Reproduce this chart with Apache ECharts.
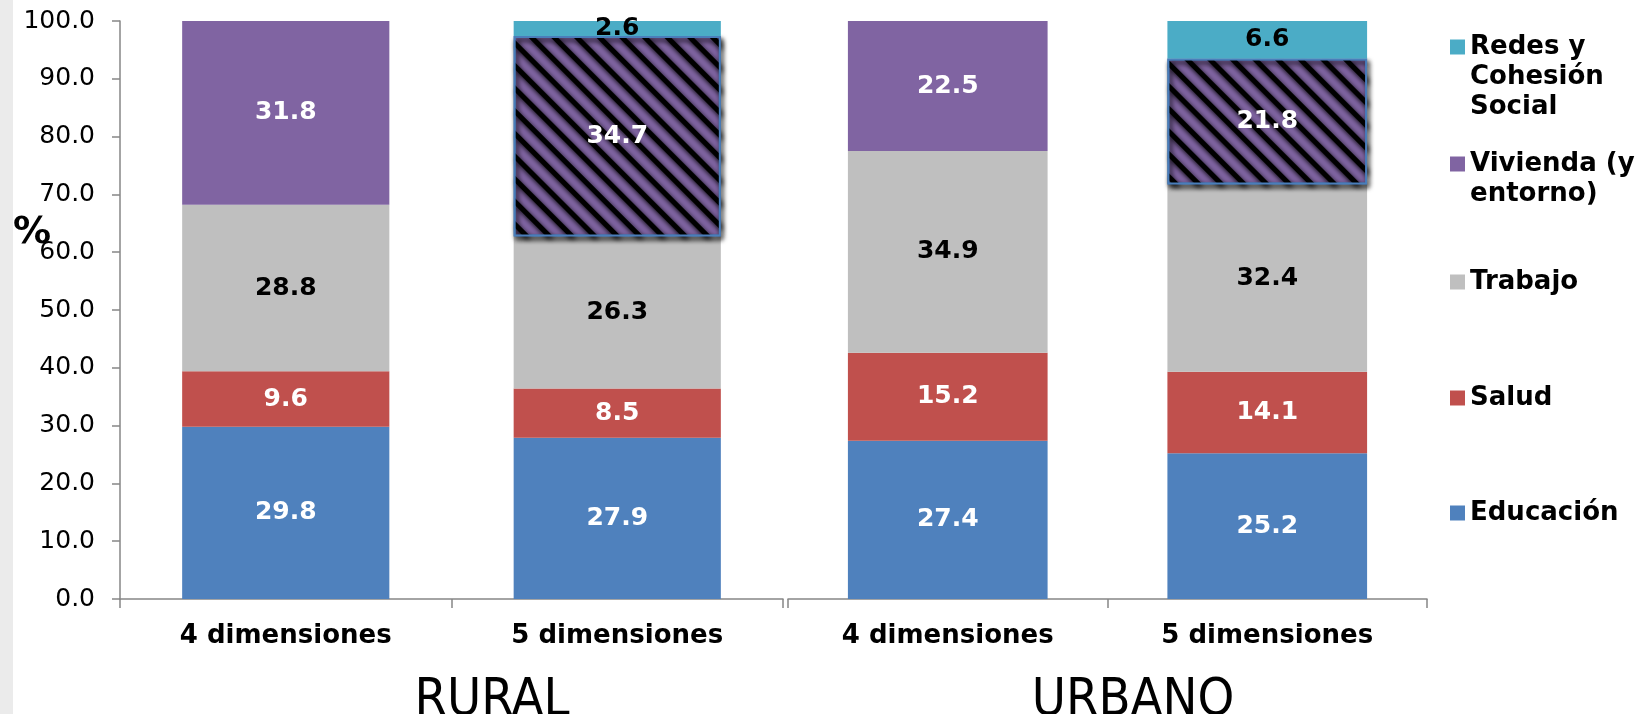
<!DOCTYPE html>
<html><head><meta charset="utf-8">
<script src="https://cdn.jsdelivr.net/npm/echarts@6/dist/echarts.min.js"></script>
<style>
html,body{margin:0;padding:0;background:linear-gradient(to right,#ebebeb 13px,#ffffff 13px);}
#c{width:1643px;height:714px;}
</style></head><body><div id="c"></div>
<script>
// ---- data ----
const categories = ['4 dimensiones', '5 dimensiones'];
const groups = ['RURAL', 'URBANO'];
const yTicks = [0, 10, 20, 30, 40, 50, 60, 70, 80, 90, 100];
// values ordered: [RURAL 4 dim, RURAL 5 dim, URBANO 4 dim, URBANO 5 dim]
const educacion = [29.8, 27.9, 27.4, 25.2];
const salud     = [9.6, 8.5, 15.2, 14.1];
const trabajo   = [28.8, 26.3, 34.9, 32.4];
const vivienda  = [31.8, 34.7, 22.5, 21.8];
const redes     = [null, 2.6, null, 6.6];
const seriesNames = ['Educación', 'Salud', 'Trabajo', 'Vivienda (y entorno)', 'Redes y Cohesión Social'];

// ---- styles ----
const seriesValues = [educacion, salud, trabajo, vivienda, redes];
const colors = ['#4f81bd', '#c0504d', '#bfbfbf', '#8064a2', '#4bacc6'];
const labelColors = ['#ffffff', '#ffffff', '#000000', '#ffffff', '#000000'];
const legendText = {
  'Redes y Cohesión Social': '\n\nRedes y\nCohesión\nSocial',
  'Vivienda (y entorno)': '\nVivienda (y\nentorno)',
  'Trabajo': 'Trabajo', 'Salud': 'Salud', 'Educación': 'Educación'
};
const legendCenters = {'Redes y Cohesión Social': 47, 'Vivienda (y entorno)': 164, 'Trabajo': 282, 'Salud': 398, 'Educación': 513};
const FONT = 'DejaVu Sans';
const axisColor = '#868686';

const hatch = {
  decal: { symbol: 'rect', symbolSize: 1, dashArrayX: [1, 0], dashArrayY: [5, 11], rotation: Math.PI / 4, color: '#000000' },
  borderColor: '#4a7ebb', borderWidth: 2,
  shadowBlur: 5, shadowColor: 'rgba(0,0,0,0.3)', shadowOffsetX: 2, shadowOffsetY: 3
};

const series = [];
for (let g = 0; g < groups.length; g++) {
  seriesNames.forEach((name, s) => {
    const vals = seriesValues[s].slice(g * 2, g * 2 + 2);
    series.push({
      name: name,
      type: 'bar',
      xAxisIndex: g, yAxisIndex: g,
      stack: 'g' + g,
      barWidth: '62.5%',
      itemStyle: { color: colors[s] },
      label: {
        show: true, position: 'inside',
        color: labelColors[s], fontFamily: FONT, fontWeight: 'bold', fontSize: 25,
        formatter: p => (p.value == null ? '' : Number(p.value).toFixed(1))
      },
      data: vals.map((v, i) => (s === 3 && i === 1) ? { value: v, itemStyle: hatch } : v)
    });
  });
}

const legends = seriesNames.slice().reverse().map(name => {
  const lines = legendText[name].split('\n').length;
  return {
    data: [name], orient: 'vertical', left: 1450, top: legendCenters[name] - lines * 15,
    padding: 0, icon: 'rect', itemWidth: 15, itemHeight: 15,
    formatter: n => legendText[n],
    textStyle: { fontFamily: FONT, fontWeight: 'bold', fontSize: 26, lineHeight: 30, color: '#000' }
  };
});

const xAxisBase = g => ({
  type: 'category', gridIndex: g, data: categories,
  axisLine: { lineStyle: { color: axisColor, width: 1.5 } },
  axisTick: { show: true, length: 9, lineStyle: { color: axisColor, width: 1.5 } },
  axisLabel: { color: '#000', fontFamily: FONT, fontWeight: 'bold', fontSize: 26, margin: 24 }
});

const option = {
  animation: false,
  backgroundColor: 'transparent',
  grid: [
    { left: 120, top: 21, width: 663, height: 578 },
    { left: 788, top: 21, width: 639, height: 578 }
  ],
  xAxis: [xAxisBase(0), xAxisBase(1)],
  yAxis: [
    { type: 'value', gridIndex: 0, min: yTicks[0], max: yTicks[yTicks.length - 1], interval: yTicks[1] - yTicks[0],
      axisLine: { show: true, lineStyle: { color: axisColor, width: 1.5 } },
      axisTick: { show: true, length: 8, lineStyle: { color: axisColor, width: 1.5 } },
      splitLine: { show: false },
      axisLabel: { color: '#000', fontFamily: FONT, fontSize: 25, margin: 25, formatter: v => v.toFixed(1) } },
    { type: 'value', gridIndex: 1, min: yTicks[0], max: yTicks[yTicks.length - 1], show: false, splitLine: { show: false } }
  ],
  legend: legends,
  series: series,
  graphic: [
    { type: 'text', left: 13, top: 214, style: { text: '%', font: 'bold 38px "DejaVu Sans"', fill: '#000' } },
    { type: 'text', x: 492, y: 701, style: { text: groups[0], font: '52px "DejaVu Sans Condensed", "Liberation Sans Narrow", "DejaVu Sans"', fill: '#000', align: 'center', verticalAlign: 'middle' } },
    { type: 'text', x: 1133, y: 701, style: { text: groups[1], font: '52px "DejaVu Sans Condensed", "Liberation Sans Narrow", "DejaVu Sans"', fill: '#000', align: 'center', verticalAlign: 'middle' } }
  ]
};

const chart = echarts.init(document.getElementById('c'), null, { renderer: 'canvas' });
chart.setOption(option);
</script></body></html>
